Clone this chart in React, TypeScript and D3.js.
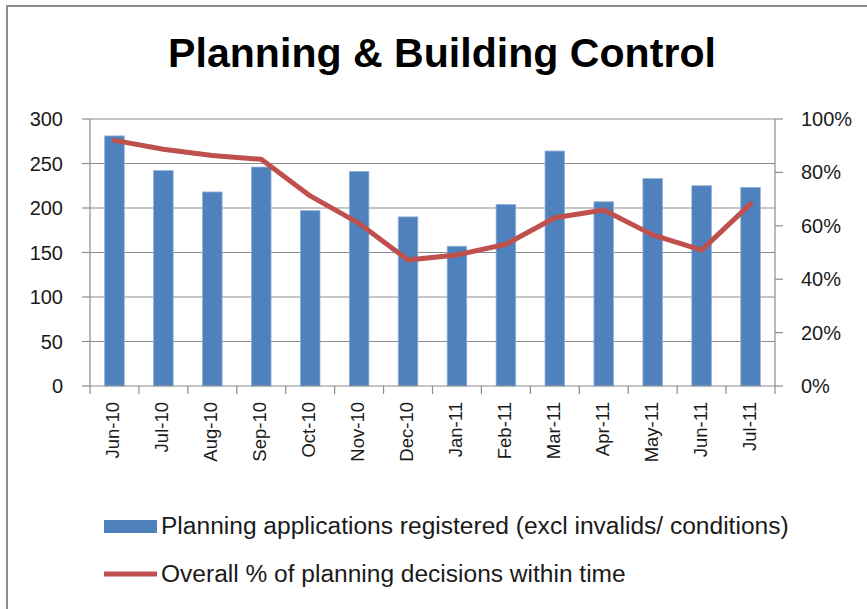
import React, { useRef, useEffect } from 'react';
import * as d3 from 'd3';

const months = ['Jun-10', 'Jul-10', 'Aug-10', 'Sep-10', 'Oct-10', 'Nov-10', 'Dec-10', 'Jan-11', 'Feb-11', 'Mar-11', 'Apr-11', 'May-11', 'Jun-11', 'Jul-11'];
const applications = [281, 242, 218, 246, 197, 241, 190, 157, 204, 264, 207, 233, 225, 223];
const withinTime = [0.92, 0.887, 0.863, 0.849, 0.712, 0.609, 0.472, 0.491, 0.531, 0.63, 0.659, 0.566, 0.509, 0.682];
const leftTicks = [0, 50, 100, 150, 200, 250, 300];
const rightTicks = [0, 0.2, 0.4, 0.6, 0.8, 1];
const barLabel = 'Planning applications registered (excl invalids/ conditions)';
const lineLabel = 'Overall % of planning decisions within time';

const FONT = "'Liberation Sans', Arial, sans-serif";

const App = () => {
  const svgRef = useRef<SVGSVGElement>(null);

  useEffect(() => {
    const svg = d3.select(svgRef.current);
    svg.selectAll('*').remove();

    const width = 867;
    const height = 609;
    const plot = { left: 90, right: 775, top: 119, bottom: 386 };

    // fit a text element to a target pixel width by scaling its font size
    const fit = (sel: any, target: number) => {
      const node = sel.node();
      const len = node.getComputedTextLength();
      const fs = parseFloat(sel.attr('font-size'));
      if (len > 0) sel.attr('font-size', (fs * target) / len);
    };

    svg.attr('width', width).attr('height', height).style('font-family', FONT);

    // chart border
    svg
      .append('path')
      .attr('d', `M7,${height + 2} L7,6 L${width + 2},6`)
      .attr('fill', 'none')
      .attr('stroke', '#8c8c8c')
      .attr('stroke-width', 2);

    // title
    const title = svg
      .append('text')
      .attr('x', 442)
      .attr('y', 67)
      .attr('text-anchor', 'middle')
      .attr('font-size', 34)
      .attr('font-weight', 'bold')
      .attr('fill', '#000')
      .text('Planning & Building Control');
    fit(title, 548);

    const xScale = d3.scaleBand().domain(months).range([plot.left, plot.right]).paddingInner(0).paddingOuter(0);
    const yLeft = d3.scaleLinear().domain([0, 300]).range([plot.bottom, plot.top]);
    const yRight = d3.scaleLinear().domain([0, 1]).range([plot.bottom, plot.top]);

    // gridlines
    svg
      .append('g')
      .selectAll('line')
      .data(leftTicks.filter((d) => d > 0))
      .enter()
      .append('line')
      .attr('x1', plot.left)
      .attr('x2', plot.right)
      .attr('y1', (d) => yLeft(d))
      .attr('y2', (d) => yLeft(d))
      .attr('stroke', '#8c8c8c')
      .attr('stroke-width', 1.2);

    // bars
    const bw = xScale.bandwidth() * 0.4;
    svg
      .append('g')
      .selectAll('rect')
      .data(applications)
      .enter()
      .append('rect')
      .attr('x', (_, i) => xScale(months[i])! + (xScale.bandwidth() - bw) / 2)
      .attr('y', (d) => yLeft(d))
      .attr('width', bw)
      .attr('height', (d) => plot.bottom - yLeft(d))
      .attr('fill', '#4f81bd')
      .attr('stroke', '#8fb0d8')
      .attr('stroke-width', 0.8);

    // axes lines
    const axisColor = '#8c8c8c';
    const axes = svg.append('g').attr('stroke', axisColor).attr('stroke-width', 1.2);
    axes.append('line').attr('x1', plot.left).attr('x2', plot.left).attr('y1', plot.top).attr('y2', plot.bottom);
    axes.append('line').attr('x1', plot.right).attr('x2', plot.right).attr('y1', plot.top).attr('y2', plot.bottom);
    axes.append('line').attr('x1', plot.left).attr('x2', plot.right).attr('y1', plot.bottom).attr('y2', plot.bottom);

    // left ticks + labels
    leftTicks.forEach((t) => {
      axes.append('line').attr('x1', plot.left - 8).attr('x2', plot.left).attr('y1', yLeft(t)).attr('y2', yLeft(t));
      svg
        .append('text')
        .attr('x', 63)
        .attr('y', yLeft(t))
        .attr('dy', '0.35em')
        .attr('text-anchor', 'end')
        .attr('font-size', 20)
        .attr('fill', '#1a1a1a')
        .text(t);
    });

    // right ticks + labels
    rightTicks.forEach((t) => {
      axes.append('line').attr('x1', plot.right).attr('x2', plot.right + 8).attr('y1', yRight(t)).attr('y2', yRight(t));
      svg
        .append('text')
        .attr('x', 801)
        .attr('y', yRight(t))
        .attr('dy', '0.35em')
        .attr('text-anchor', 'start')
        .attr('font-size', 20)
        .attr('fill', '#1a1a1a')
        .text(d3.format('.0%')(t));
    });

    // category ticks
    months.concat(['']).forEach((_, i) => {
      const x = plot.left + i * xScale.bandwidth();
      axes.append('line').attr('x1', x).attr('x2', x).attr('y1', plot.bottom).attr('y2', plot.bottom + 8);
    });

    // x labels, rotated
    months.forEach((m) => {
      const cx = xScale(m)! + xScale.bandwidth() / 2;
      svg
        .append('text')
        .attr('transform', `translate(${cx + 5}, 402) rotate(-90)`)
        .attr('text-anchor', 'end')
        .attr('font-size', 18.5)
        .attr('fill', '#1a1a1a')
        .text(m);
    });

    // line
    const line = d3
      .line<number>()
      .x((_, i) => xScale(months[i])! + xScale.bandwidth() / 2)
      .y((d) => yRight(d));
    svg
      .append('path')
      .datum(withinTime)
      .attr('d', line)
      .attr('fill', 'none')
      .attr('stroke', '#c0504d')
      .attr('stroke-width', 5)
      .attr('stroke-linejoin', 'round')
      .attr('stroke-linecap', 'round');

    // legend
    const legend = svg.append('g');
    legend.append('rect').attr('x', 104).attr('y', 520).attr('width', 53).attr('height', 13).attr('fill', '#4f81bd');
    const t1 = legend
      .append('text')
      .attr('x', 161)
      .attr('y', 534)
      .attr('font-size', 19)
      .attr('fill', '#1a1a1a')
      .text(barLabel);
    fit(t1, 628);
    legend
      .append('line')
      .attr('x1', 104)
      .attr('x2', 157)
      .attr('y1', 574)
      .attr('y2', 574)
      .attr('stroke', '#c0504d')
      .attr('stroke-width', 5);
    const t2 = legend
      .append('text')
      .attr('x', 161)
      .attr('y', 582)
      .attr('font-size', 19)
      .attr('fill', '#1a1a1a')
      .text(lineLabel);
    fit(t2, 465);
  }, []);

  return <svg ref={svgRef} style={{ position: 'absolute', left: 0, top: 0 }} />;
};

export default App;
